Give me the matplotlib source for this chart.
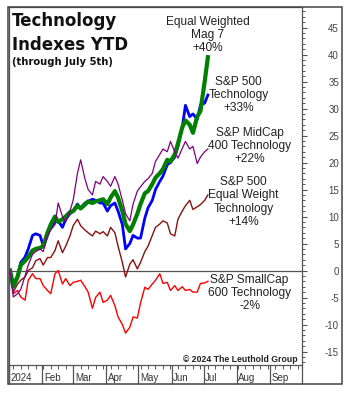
import pandas as pd
import matplotlib
matplotlib.use('Agg')
import matplotlib.pyplot as plt
import matplotlib.dates as mdates
from matplotlib.patches import Rectangle
from matplotlib.lines import Line2D
from matplotlib.ticker import MultipleLocator

plt.rcParams['axes.unicode_minus'] = False
plt.rcParams['font.family'] = ['Liberation Sans', 'DejaVu Sans']

dates = ['2024-01-02', '2024-01-05', '2024-01-09', '2024-01-12', '2024-01-16', '2024-01-19',
         '2024-01-23', '2024-01-26', '2024-01-30', '2024-02-02', '2024-02-06', '2024-02-09',
         '2024-02-13', '2024-02-16', '2024-02-20', '2024-02-23', '2024-02-27', '2024-03-01',
         '2024-03-05', '2024-03-08', '2024-03-12', '2024-03-15', '2024-03-19', '2024-03-22',
         '2024-03-26', '2024-03-29', '2024-04-02', '2024-04-05', '2024-04-09', '2024-04-12',
         '2024-04-16', '2024-04-19', '2024-04-23', '2024-04-26', '2024-04-30', '2024-05-03',
         '2024-05-07', '2024-05-10', '2024-05-14', '2024-05-17', '2024-05-21', '2024-05-24',
         '2024-05-28', '2024-05-31', '2024-06-04', '2024-06-07', '2024-06-11', '2024-06-14',
         '2024-06-18', '2024-06-21', '2024-06-25', '2024-06-28', '2024-07-02', '2024-07-05']

mag7 = [0, -3, -1.2, 1.0, 1.8, 2.5, 3.7, 4.0, 4.2, 4.5, 7.0, 8.5, 10, 9, 9.5, 10, 10.8, 11,
        12, 11.5, 12.2, 12.8, 12.5, 12.8, 13, 13.2, 12.3, 13.5, 14.7, 13.5, 11, 8.6, 7.3, 8.5,
        10.5, 12.3, 14.3, 14.7, 16, 17.2, 18, 18.8, 20.5, 20.2, 21.5, 23.5, 26.5, 27.8, 27,
        25.5, 28.5, 29.5, 35, 39.5]

sp500_tech = [0, -2.5, -1, 1.5, 2.5, 4, 6.5, 6.8, 6.5, 4.6, 6.5, 8, 9, 9.2, 8, 9.5, 10.5, 11,
              12.3, 11.5, 12.5, 12.8, 13.2, 13, 12.5, 12.5, 11, 12, 12.5, 11, 8.5, 4, 5, 6.5,
              6, 6, 9.7, 11.6, 13, 15, 16.5, 17.5, 19.6, 20, 21, 23, 26.5, 30.6, 28.5, 29, 28,
              30.6, 31, 32.5]

midcap_tech = [0, -4.9, -4.3, -3.5, -1, 1, 3, 3.5, 4, 3.5, 6.5, 7.5, 8.5, 12.5, 10, 9, 11, 13,
               18, 20.5, 17, 15, 14, 16.5, 16, 17.4, 16.5, 15.6, 17.4, 16, 13, 10.5, 9.2, 12.3,
               14.7, 15.5, 16.5, 17, 18, 20.2, 21.5, 22.5, 22, 23.9, 22, 20.8, 22.6, 23.9, 22.5,
               23, 19.8, 21, 22, 22.5]

ew_tech = [0, -4, -2.5, -1.8, -1.2, 0, 0.5, 1.8, 2.2, 1, 2.4, 2.4, 3.7, 5.5, 3.3, 4.5, 6.4,
           8.3, 9.5, 8.3, 7.5, 7, 6.4, 7.3, 6.8, 7.2, 6.4, 8, 7, 4.5, 1.5, -1.2, 1.2, 2, 0.3,
           1.5, 3.5, 4.5, 6.5, 8, 8.6, 9.2, 8.8, 6.8, 6.4, 9.5, 11, 12, 13, 11.3, 11.8, 12.2,
           13, 14]

smallcap_tech = [0, -4.3, -3.7, -4.9, -5.5, -1.8, -0.6, -1.5, -1.5, -2.8, -3.7, -4.3, -0.6, 0,
                 -2.5, -1.5, -2.8, -2.2, -2, -1.8, -3, -4, -7, -5, -4, -5.9, -5.5, -4.6, -6.5,
                 -8.6, -10, -11.6, -10.5, -8.6, -8.8, -6, -3.1, -3.5, -2.5, -1.8, -0.6, -2.4,
                 -2.2, -3.7, -2.8, -3.7, -3, -3.7, -3.5, -4, -4, -2.4, -2.3, -2]

month_starts = ['2024-01-01', '2024-02-01', '2024-03-01', '2024-04-01', '2024-05-01',
                '2024-06-01', '2024-07-01', '2024-08-01', '2024-09-01', '2024-10-01']
month_labels = ['2024', 'Feb', 'Mar', 'Apr', 'May', 'Jun', 'Jul', 'Aug', 'Sep', '']

W, H = 350, 393
x = pd.to_datetime(dates)

fig = plt.figure(figsize=(W / 100, H / 100), dpi=100)
ax = fig.add_axes([9 / W, 1 - 365 / H, (302 - 9) / W, (365 - 7) / H])

ax.axhline(0, color='#555555', lw=0.9, zorder=1)
ax.plot(x, smallcap_tech, color='#ff0000', lw=1.0, zorder=2)
ax.plot(x, ew_tech, color='#8b1010', lw=1.0, zorder=3)
ax.plot(x, sp500_tech, color='#0000ff', lw=2.0, zorder=4)
ax.plot(x, mag7, color='#008000', lw=3.0, zorder=5)
ax.plot(x, midcap_tech, color='#800080', lw=0.9, zorder=6)

ax.set_xlim(pd.Timestamp('2024-01-01'), pd.Timestamp('2024-10-01'))
ax.set_ylim(-17.5, 48.8)

# y axis on the right
ax.yaxis.set_ticks_position('right')
ax.yaxis.set_minor_locator(MultipleLocator(1))
ax.set_yticks(range(-15, 50, 5))
ax.tick_params(axis='y', which='major', direction='out', length=3.6, width=0.8,
               color='#555555', labelsize=7, labelcolor='#444444', pad=23)
ax.tick_params(axis='y', which='minor', direction='out', length=2, width=0.7, color='#555555')
for lab in ax.get_yticklabels():
    lab.set_horizontalalignment('right')

# x axis: month separators + weekly ticks
ax.set_xticks(pd.to_datetime(month_starts))
ax.set_xticklabels([''] * len(month_starts))
ax.xaxis.set_minor_locator(mdates.WeekdayLocator(byweekday=mdates.FR))
ax.tick_params(axis='x', which='major', direction='out', length=13.7, width=0.9, color='#555555')
ax.tick_params(axis='x', which='minor', direction='out', length=2.8, width=0.7, color='#555555')
for d, lab in zip(month_starts, month_labels):
    ax.text(pd.Timestamp(d) + pd.Timedelta(days=1.5), -0.035, lab, transform=ax.get_xaxis_transform(),
            ha='left', va='center', fontsize=7, color='#333333')

for s in ax.spines.values():
    s.set_color('#555555')
    s.set_linewidth(0.9)

# outer frame
fig.add_artist(Rectangle((8 / W, 1 - 384 / H), (342 - 8) / W, (384 - 7) / H, fill=False,
                         ec='#444444', lw=1.1, transform=fig.transFigure))
fig.add_artist(Line2D([9 / W, 9 / W], [1 - 384 / H, 1 - 365 / H], color='#555555', lw=0.9,
                      transform=fig.transFigure))


def fpos(px, py):
    return px / W, 1 - py / H


fig.text(*fpos(12, 26), 'Technology', fontsize=12, fontweight='bold', family='DejaVu Sans',
         ha='left', va='baseline', color='#111111')
fig.text(*fpos(12, 50), 'Indexes YTD', fontsize=12, fontweight='bold', family='DejaVu Sans',
         ha='left', va='baseline', color='#111111')
fig.text(*fpos(12, 65), '(through July 5th)', fontsize=7.2, fontweight='bold', family='DejaVu Sans',
         ha='left', va='baseline', color='#111111')

labels = [
    (208, 35.3, 'Equal Weighted\nMag 7\n+40%'),
    (238.5, 94.7, 'S&P 500\nTechnology\n+33%'),
    (250, 146.3, 'S&P MidCap\n400 Technology\n+22%'),
    (243.7, 202, 'S&P 500\nEqual Weight\nTechnology\n+14%'),
    (249.5, 293, 'S&P SmallCap\n600 Technology\n-2%'),
]
for lx, ly, txt in labels:
    fig.text(*fpos(lx, ly), txt, fontsize=8.6, ha='center', va='center', multialignment='center',
             linespacing=1.13, color='#222222')

fig.text(*fpos(298, 359.5), '\u00a9 2024 The Leuthold Group', fontsize=6.3, fontweight='bold',
         ha='right', va='center', color='#222222')

fig.savefig('out.png', dpi=100)
